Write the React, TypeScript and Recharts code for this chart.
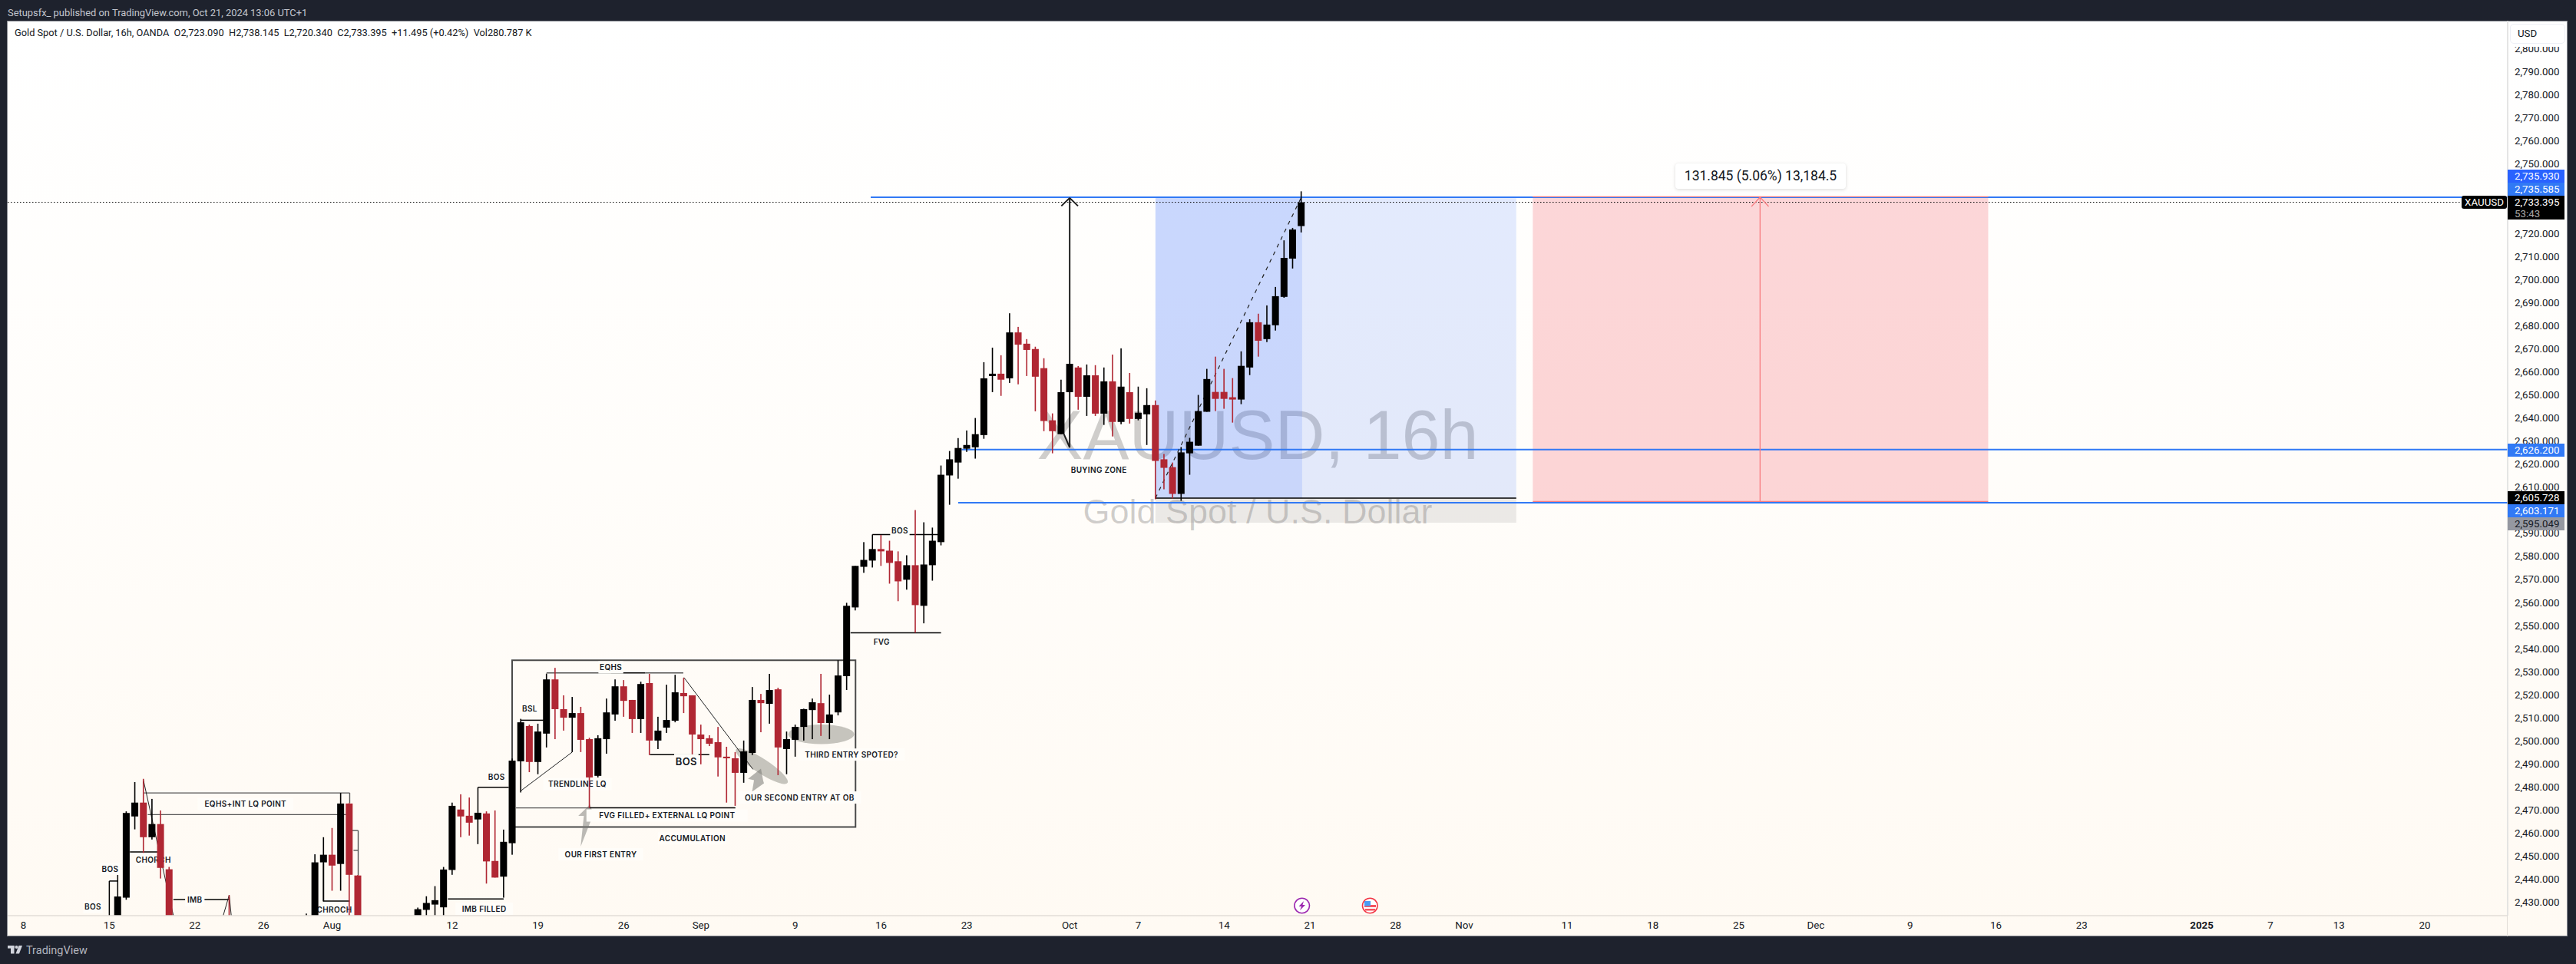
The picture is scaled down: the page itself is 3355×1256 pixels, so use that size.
import React from 'react';
import { ComposedChart, Bar, XAxis, YAxis, ReferenceLine, ReferenceArea, ReferenceDot } from 'recharts';

// candles: bar number on the time scale, then OHLC
const barIndex = [
  0, 1, 2, 3, 4, 5, 6, 13, 22, 23,
  24, 25, 26, 27, 28, 35, 36, 37, 38, 39,
  40, 41, 42, 43, 44, 45, 46, 47, 48, 49,
  50, 51, 52, 53, 54, 55, 56, 57, 58, 59,
  60, 61, 62, 63, 64, 65, 66, 67, 68, 69,
  70, 71, 72, 73, 74, 75, 76, 77, 78, 79,
  80, 81, 82, 83, 84, 85, 86, 87, 88, 89,
  90, 91, 92, 93, 94, 95, 96, 97, 98, 99,
  100, 101, 102, 103, 104, 105, 106, 107, 108, 109,
  110, 111, 112, 113, 114, 115, 116, 117, 118, 119,
  120, 121, 122, 123, 124, 125, 126, 127, 128, 129,
  130, 131, 132, 133, 134, 135, 136, 137, 138,
];
const barOpen = [
  2415, 2432, 2467.2, 2473.2, 2458.2, 2463.9, 2444.3, 2415, 2410, 2415,
  2447.3, 2450.6, 2446.6, 2472.8, 2441.6, 2415, 2426.7, 2429, 2427.8, 2444,
  2470.2, 2467.5, 2465.9, 2468.5, 2447.9, 2441.1, 2455.6, 2491.1, 2506.4, 2490.8,
  2503.1, 2526.6, 2513.7, 2510, 2512, 2500.7, 2484.8, 2500.7, 2511.4, 2523.6,
  2517.7, 2509.4, 2525, 2500.1, 2505.7, 2508.7, 2520.7, 2519.7, 2502.7, 2501.1,
  2499.4, 2493.1, 2492.4, 2486.1, 2494.7, 2517.7, 2516, 2522.3, 2496.4, 2500.4,
  2506, 2513.3, 2516.3, 2507.7, 2512.3, 2528, 2557.8, 2575.4, 2578.1, 2583.1,
  2582.4, 2577.8, 2569.8, 2576.1, 2558.5, 2576.1, 2586.1, 2615, 2620.6, 2626.6,
  2627.2, 2632.5, 2658.1, 2659.1, 2657.1, 2677, 2672.1, 2669.8, 2661.5, 2638.9,
  2632.9, 2651.1, 2661.8, 2649.1, 2658.4, 2641.8, 2655.8, 2638.2, 2651.1, 2639.5,
  2641.5, 2645.5, 2622, 2618.6, 2607, 2624.6, 2627.9, 2642.6, 2651.2, 2651.2,
  2648.9, 2647.9, 2661.8, 2681.4, 2674.1, 2680.1, 2692.4, 2709, 2723.09,
];
const barHigh = [
  2432.5, 2469.4, 2482.1, 2483.5, 2474.8, 2469.8, 2445.3, 2433.1, 2425.1, 2450.8,
  2458.2, 2462.2, 2477.4, 2473, 2441.8, 2427.7, 2432.6, 2437, 2445.3, 2473.2,
  2476.8, 2475.4, 2468.8, 2469.4, 2469.8, 2461.5, 2492.3, 2509.5, 2507, 2507.4,
  2529.1, 2531.6, 2519.7, 2519, 2514.7, 2501.3, 2502.4, 2518.3, 2526.6, 2526.3,
  2517.7, 2525.6, 2529, 2510.4, 2524.3, 2528.6, 2527.3, 2519.7, 2507, 2502.4,
  2506, 2497.4, 2495.1, 2500.1, 2523.3, 2520.3, 2529, 2523, 2504, 2507,
  2513.9, 2518.3, 2529, 2520, 2534.9, 2559.8, 2575.8, 2586.1, 2583.1, 2589.2,
  2586.7, 2582.1, 2580.4, 2600, 2594.7, 2592.4, 2619.3, 2625.6, 2631.2, 2634.5,
  2639.9, 2664.1, 2670.4, 2667.1, 2685.3, 2679.4, 2674.1, 2670.8, 2665.8, 2641.9,
  2656.5, 2663.4, 2662.4, 2663.1, 2662.8, 2661.8, 2667.4, 2670.1, 2659.4, 2653.5,
  2652.8, 2647.5, 2624.3, 2620.6, 2627.3, 2631.3, 2649.9, 2661.2, 2666.5, 2661.2,
  2657.2, 2668.8, 2682.7, 2685.1, 2688.7, 2696.7, 2716.9, 2722.3, 2738.145,
];
const barLow = [
  2410, 2431.1, 2461.6, 2451.4, 2457.2, 2440.3, 2410, 2405, 2405, 2410,
  2430.3, 2435, 2435, 2420, 2410, 2410, 2415, 2418, 2422, 2441.9,
  2458.2, 2458.9, 2455.2, 2438.1, 2440.7, 2432, 2450.6, 2477.6, 2486.4, 2485.5,
  2497.1, 2500.7, 2504.4, 2495.1, 2495.1, 2470.9, 2484.1, 2494.4, 2508.7, 2510.4,
  2503.4, 2503.4, 2493.8, 2496.4, 2503.4, 2508, 2512, 2494.1, 2489.8, 2497.7,
  2484.5, 2473.2, 2471.8, 2481.8, 2493.8, 2503.7, 2507.4, 2485.1, 2485.5, 2493.1,
  2500.1, 2500.7, 2502.1, 2500.7, 2511, 2522, 2556.5, 2572.8, 2575.1, 2575.8,
  2568.1, 2560.5, 2565.5, 2546.8, 2550.9, 2569.4, 2584.7, 2602.3, 2613.6, 2625.2,
  2622.3, 2630.9, 2651.1, 2649.5, 2655.1, 2654.5, 2658.1, 2642.8, 2634.2, 2624.6,
  2632.9, 2651.1, 2643.5, 2640.8, 2640.8, 2636.9, 2631.9, 2637.2, 2637.5, 2638.9,
  2628.2, 2604.7, 2609, 2605, 2604, 2615.3, 2627.9, 2642.6, 2642.9, 2643.9,
  2637.9, 2645.9, 2658.5, 2666.5, 2672.8, 2677.8, 2692, 2704.7, 2720.34,
];
const barClose = [
  2432.5, 2468.7, 2473.2, 2458.2, 2463.9, 2444.9, 2415, 2410, 2415, 2447.3,
  2450.6, 2445.9, 2472.8, 2441.9, 2415, 2427, 2429.7, 2430.9, 2444.2, 2471.8,
  2467.2, 2464.5, 2468.8, 2447.7, 2440.7, 2456.2, 2491.4, 2508, 2490.8, 2504,
  2526.6, 2513.7, 2510, 2512, 2500.4, 2484.1, 2501.1, 2512.3, 2523.6, 2517.3,
  2509.4, 2524.6, 2500.1, 2504.4, 2509, 2521, 2519.3, 2502.7, 2500.7, 2498.7,
  2492.8, 2492.4, 2486.1, 2495.4, 2517.7, 2516.3, 2522, 2497.1, 2500.7, 2506,
  2513.7, 2516.7, 2507.7, 2511.4, 2528.3, 2558.5, 2575.8, 2578.4, 2583.1, 2582.1,
  2577.1, 2569.1, 2576.1, 2558.8, 2576.4, 2586.7, 2615.3, 2622, 2626.9, 2628.2,
  2632.9, 2657.1, 2659.1, 2656.5, 2677, 2671.7, 2669.4, 2657.8, 2638.6, 2634.2,
  2651.1, 2663.4, 2649.1, 2658.4, 2641.8, 2655.8, 2638.2, 2653.5, 2639.5, 2642.2,
  2645.5, 2621.3, 2618.3, 2607, 2625, 2629.6, 2642.9, 2656.8, 2648.2, 2648.2,
  2647.9, 2662.5, 2681.4, 2673.4, 2680.4, 2692.7, 2709.3, 2721.6, 2733.395,
];

const priceTicks = [
  2430, 2440, 2450, 2460, 2470, 2480, 2490, 2500, 2510, 2520, 2530, 2540, 2550, 2560, 2570, 2580, 2590, 2600, 2610,
  2620, 2630, 2640, 2650, 2660, 2670, 2680, 2690, 2700, 2710, 2720, 2730, 2740, 2750, 2760, 2770, 2780, 2790, 2800,
];
const timeTicks = [-11, -1, 9, 17, 25, 39, 49, 59, 68, 79, 89, 99, 111, 119, 129, 139, 149, 157, 169, 179, 189, 198, 209, 219, 229, 243, 251, 259, 269];
const timeLabels = ['8', '15', '22', '26', 'Aug', '12', '19', '26', 'Sep', '9', '16', '23', 'Oct', '7', '14', '21', '28', 'Nov', '11', '18', '25', 'Dec', '9', '16', '23', '2025', '7', '13', '20'];

const chartData = barIndex.map((bar, n) => ({ bar, o: barOpen[n], h: barHigh[n], l: barLow[n], c: barClose[n] }));

const lastPrice = 2733.395;
const xMin = -12.83;
const xMax = 278.67;

// drawings, in [bar, price, bar, price]
const blueLevels = [
  [87.8, 2735.585],
  [98.4, 2626.2],
  [98, 2603.171],
];
const blackLines = [
  [-0.98, 2420, -0.98, 2439.2], [-0.98, 2439.2, 0, 2439.2], [0, 2444.2, 0, 2432.5],
  [1.42, 2451.8, 4.64, 2451.8],
  [6.49, 2431.2, 13, 2431.2],
  [24, 2447, 24, 2430.5], [24, 2430.5, 27.05, 2430.5],
  [38.5, 2431.4, 45, 2431.4],
  [42, 2479.8, 42, 2468.8], [42, 2479.8, 45.6, 2479.8],
  [47, 2508.9, 49.65, 2508.9],
  [57.5, 2529.4, 61.5, 2529.4],
  [62.06, 2494, 68.98, 2494],
  [55, 2470.9, 72.02, 2470.9],
  [85.45, 2546.8, 96, 2546.8],
  [88, 2589.4, 95.7, 2589.4], [88, 2589.4, 88, 2583],
  [121, 2605.2, 163.07, 2605.2],
];
const grayLines = [
  [3.06, 2477.4, 27.05, 2477.4], [3.5, 2468, 27, 2468], [27.05, 2477.4, 27.05, 2473],
  [27.05, 2461.1, 28.04, 2461.1], [27.5, 2452.5, 28.04, 2452.5], [28.04, 2461.1, 28.04, 2441.6],
  [50, 2529.4, 57.5, 2529.4], [61.5, 2529.4, 65.95, 2529.4],
  [46.44, 2470.9, 55, 2470.9],
];
const thinLines = [
  [3, 2482.9, 6.49, 2424.2],
  [12.3, 2424.2, 13, 2433.1], [13, 2433.1, 13.24, 2424.2],
  [47, 2478.3, 53, 2495.1],
  [66.03, 2527.4, 74.08, 2487.6],
];
const heavyLines = [
  [111, 2735.3, 111, 2627.1], [110.03, 2731.8, 111, 2735.3], [111, 2735.3, 111.97, 2731.8], [110.33, 2632.9, 111, 2627.1],
];
const pinkLines = [
  [191.5, 2603.6, 191.5, 2735.6], [190.5, 2731.6, 191.5, 2735.6], [191.5, 2735.6, 192.5, 2731.6],
  [165, 2735.8, 218.1, 2735.8], [165, 2603.7, 218.1, 2603.7],
];
const noteTexts = [
  { text: 'BOS', bar: -0.88, price: 2444.5 },
  { text: 'BOS', bar: -2.9, price: 2427.9 },
  { text: 'CHORCH', bar: 4.16, price: 2448.5 },
  { text: 'EQHS+INT LQ POINT', bar: 14.9, price: 2472.6 },
  { text: 'IMB', bar: 8.99, price: 2430.9 },
  { text: 'CHROCH', bar: 25.27, price: 2426.8 },
  { text: 'IMB FILLED', bar: 42.73, price: 2427.2 },
  { text: 'BOS', bar: 44.17, price: 2484.3 },
  { text: 'BSL', bar: 48.04, price: 2513.8 },
  { text: 'TRENDLINE LQ', bar: 53.6, price: 2481.2 },
  { text: 'EQHS', bar: 57.5, price: 2531.8 },
  { text: 'FVG FILLED+ EXTERNAL LQ POINT', bar: 64.05, price: 2467.6 },
  { text: 'ACCUMULATION', bar: 67, price: 2457.7 },
  { text: 'OUR FIRST ENTRY', bar: 56.33, price: 2450.8 },
  { text: 'OUR SECOND ENTRY AT OB', bar: 79.5, price: 2475.4 },
  { text: 'THIRD ENTRY SPOTED?', bar: 85.56, price: 2494 },
  { text: 'FVG', bar: 89.08, price: 2542.7 },
  { text: 'BOS', bar: 91.2, price: 2591.2 },
  { text: 'BUYING ZONE', bar: 114.4, price: 2617.2 },
];

const fontAxis = 'Roboto, sans-serif';

function CandleShape(props: any) {
  const { x, y, width, height, payload } = props;
  const { o, h, l, c } = payload;
  const toY = (v: number) => y + ((h - v) / (h - l)) * height;
  const color = c >= o ? '#000000' : '#b02733';
  const mid = x + width / 2;
  const top = toY(Math.max(o, c));
  const bottom = toY(Math.min(o, c));
  return (
    <g>
      <rect x={mid - 0.8} y={y} width={1.6} height={height} fill={color} />
      <rect x={mid - 4.5} y={top} width={9} height={Math.max(bottom - top, 2)} fill={color} />
    </g>
  );
}

function NoteShape(props: any) {
  const { cx, cy, text, size } = props;
  const w = text.length * size * 0.71 + 4;
  return (
    <g>
      <rect x={cx - w / 2} y={cy - size * 0.8} width={w} height={size * 1.6} fill="#fffdf9" />
      <text x={cx} y={cy} dy="0.36em" textAnchor="middle" fontFamily="Inter, sans-serif" fontWeight={600} fontSize={size} letterSpacing={0.35} fill="#131722">
        {text}
      </text>
    </g>
  );
}

function DateTick(props: any) {
  const { x, y, payload } = props;
  const label = timeLabels[timeTicks.indexOf(payload.value)];
  return (
    <text x={x} y={y} dy="0.71em" textAnchor="middle" fontFamily={fontAxis} fontSize={13.3} fontWeight={label === '2025' ? 700 : 400} fill="#131722">
      {label}
    </text>
  );
}

function segmentLines(list: number[][], style: any, prefix: string) {
  return list.map((s, n) => (
    <ReferenceLine
      key={`${prefix}-${n}`}
      segment={[{ x: s[0], y: s[1] }, { x: s[2], y: s[3] }]}
      ifOverflow="hidden"
      zIndex={200}
      {...style}
    />
  ));
}

// small tag on the price scale
function PriceTag({ top, height, bg, color, text, sub }: any) {
  return (
    <div style={{ position: 'absolute', left: 3266, top, width: 74, height, background: bg, color, fontFamily: fontAxis, fontSize: 13.3, lineHeight: '17px', paddingLeft: 9, boxSizing: 'border-box' }}>
      {text}
      {sub && <div style={{ color: '#a8a8a8', lineHeight: '13px' }}>{sub}</div>}
    </div>
  );
}

export default function App() {
  return (
    <div style={{ position: 'absolute', left: 0, top: 0, width: 3355, height: 1256, background: '#1e222d', overflow: 'hidden' }}>
      <div style={{ position: 'absolute', left: 10, top: 9, color: '#c3c6ce', fontFamily: 'Roboto, sans-serif', fontSize: 12.9, lineHeight: '15px', whiteSpace: 'nowrap' }}>
        Setupsfx_ published on TradingView.com, Oct 21, 2024 13:06 UTC+1
      </div>

      {/* chart frame and background */}
      <div style={{ position: 'absolute', left: 9, top: 27, width: 3335, height: 1193, boxSizing: 'border-box', border: '1px solid #8b8e95', background: 'linear-gradient(to bottom, #ffffff 0%, #fffdfa 50%, #fffaf3 100%)' }} />

      {/* watermark */}
      <div style={{ position: 'absolute', left: 10, width: 3256, top: 515, textAlign: 'center', fontFamily: '"Liberation Sans", sans-serif', fontSize: 90, lineHeight: '104px', color: 'rgba(0,0,0,0.19)' }}>
        XAUUSD, 16h
      </div>
      <div style={{ position: 'absolute', left: 10, width: 3256, top: 640, textAlign: 'center', fontFamily: '"Liberation Sans", sans-serif', fontSize: 45, lineHeight: '54px', color: 'rgba(0,0,0,0.19)' }}>
        Gold Spot / U.S. Dollar
      </div>

      <div style={{ position: 'absolute', left: 0, top: 0 }}>
        <ComposedChart width={3355} height={1256} data={chartData} margin={{ top: 27, right: 11, bottom: 36, left: 10 }} barCategoryGap={0}>
          <XAxis
            dataKey="bar"
            type="number"
            domain={[xMin, xMax]}
            allowDataOverflow
            ticks={timeTicks}
            interval={0}
            height={27}
            tickSize={0}
            tickMargin={8}
            tick={DateTick}
            axisLine={{ stroke: '#e2ddd7', strokeWidth: 1.5 }}
            tickLine={false}
          />
          <YAxis
            orientation="right"
            domain={[2424.2, 2812.1]}
            allowDataOverflow
            ticks={priceTicks}
            interval={0}
            width={78}
            tickSize={0}
            tickMargin={9}
            tickFormatter={(v: number) => v.toLocaleString('en-US', { minimumFractionDigits: 3 })}
            tick={{ fontFamily: fontAxis, fontSize: 13.3, fill: '#131722', textAnchor: 'start' }}
            axisLine={{ stroke: '#dcdcdc', strokeWidth: 1.5 }}
            tickLine={false}
          />

          {/* position tool */}
          <ReferenceArea x1={121} x2={138.1} y1={2605.2} y2={2735.6} fill="#2962ff" fillOpacity={0.25} stroke="none" ifOverflow="visible" zIndex={100} />
          <ReferenceArea x1={138.1} x2={163.07} y1={2605.2} y2={2735.6} fill="#2962ff" fillOpacity={0.13} stroke="none" ifOverflow="visible" zIndex={100} />
          <ReferenceArea x1={121} x2={163.07} y1={2594.5} y2={2605.2} fill="#787878" fillOpacity={0.15} stroke="none" ifOverflow="visible" zIndex={100} />
          <ReferenceArea x1={165} x2={218.1} y1={2603.7} y2={2735.8} fill="#f23645" fillOpacity={0.2} stroke="none" ifOverflow="visible" zIndex={100} />

          <ReferenceLine
            segment={[{ x: xMin, y: lastPrice }, { x: xMax, y: lastPrice }]}
            ifOverflow="hidden"
            stroke="#000000"
            strokeWidth={1}
            strokeDasharray="1.5 2.5"
            zIndex={110}
          />

          <ReferenceArea x1={45.99} x2={86.03} y1={2462.6} y2={2534.9} fill="none" stroke="#4a4a4a" strokeWidth={2} ifOverflow="visible" zIndex={120} />

          {/* grey marker shapes */}
          <ReferenceDot
            x={82.03}
            y={2502.8}
            ifOverflow="visible"
            zIndex={130}
            shape={(p: any) => <ellipse cx={p.cx} cy={p.cy} rx={43} ry={12.7} fill="rgba(120,120,110,0.42)" />}
          />
          <ReferenceDot
            x={75.1}
            y={2489}
            ifOverflow="visible"
            zIndex={130}
            shape={(p: any) => <ellipse cx={p.cx} cy={p.cy} rx={40} ry={9.5} transform={`rotate(33 ${p.cx} ${p.cy})`} fill="rgba(120,120,110,0.42)" />}
          />
          <ReferenceDot
            x={55.07}
            y={2472.4}
            ifOverflow="visible"
            zIndex={130}
            shape={(p: any) => (
              <polygon
                transform={`translate(${p.cx} ${p.cy})`}
                points="0,0 -15.3,15 -8,15 -12.2,55 2,19 6.9,21"
                fill="rgba(120,120,115,0.5)"
              />
            )}
          />
          <ReferenceDot
            x={75}
            y={2487.9}
            ifOverflow="visible"
            zIndex={130}
            shape={(p: any) => (
              <polygon
                transform={`translate(${p.cx} ${p.cy})`}
                points="0,0 -16.8,13.3 -9,15 -11.5,30 4,19 3,16"
                fill="rgba(120,120,115,0.55)"
              />
            )}
          />

          {blueLevels.map((l, n) => (
            <ReferenceLine
              key={`blue-${n}`}
              segment={[{ x: l[0], y: l[1] }, { x: xMax, y: l[1] }]}
              ifOverflow="hidden"
              stroke="#3179f5"
              strokeWidth={2}
              zIndex={140}
            />
          ))}

          {segmentLines(pinkLines, { stroke: '#f77c80', strokeWidth: 1.3 }, 'pink')}
          {segmentLines(grayLines, { stroke: '#555555', strokeWidth: 1.4 }, 'gray')}
          {segmentLines(blackLines, { stroke: '#000000', strokeWidth: 1.5 }, 'black')}
          {segmentLines(thinLines, { stroke: '#222222', strokeWidth: 1 }, 'thin')}
          {segmentLines(heavyLines, { stroke: '#1c1c1c', strokeWidth: 2 }, 'heavy')}
          <ReferenceLine
            segment={[{ x: 121, y: 2605.2 }, { x: 138, y: 2735.5 }]}
            ifOverflow="hidden"
            stroke="#222222"
            strokeWidth={1.2}
            strokeDasharray="5 6"
            zIndex={200}
          />

          {noteTexts.map((t, n) => (
            <ReferenceDot
              key={`note-${n}`}
              x={t.bar}
              y={t.price}
              ifOverflow="visible"
              zIndex={210}
              shape={(p: any) => <NoteShape cx={p.cx} cy={p.cy} text={t.text} size={10} />}
            />
          ))}
          <ReferenceDot
            x={66.3}
            y={2490.9}
            ifOverflow="visible"
            zIndex={210}
            shape={(p: any) => <NoteShape cx={p.cx} cy={p.cy} text="BOS" size={13} />}
          />

          <Bar dataKey={(d: any) => [d.l, d.h]} barSize={9} shape={CandleShape} isAnimationActive={false} zIndex={300} />
        </ComposedChart>
      </div>

      {/* legend line */}
      <div style={{ position: 'absolute', left: 19, top: 35, color: '#131722', fontFamily: 'Roboto, sans-serif', fontSize: 12.8, lineHeight: '15px', whiteSpace: 'pre' }}>
        {'Gold Spot / U.S. Dollar, 16h, OANDA  O2,723.090  H2,738.145  L2,720.340  C2,733.395  +11.495 (+0.42%)  Vol280.787 K'}
      </div>

      {/* measure box */}
      <div style={{ position: 'absolute', left: 2182, top: 213, width: 222, height: 33, background: '#ffffff', borderRadius: 4, boxShadow: '0 1px 4px rgba(0,0,0,0.15)', textAlign: 'center', fontFamily: 'Roboto, sans-serif', fontSize: 17.5, lineHeight: '33px', color: '#131722', whiteSpace: 'nowrap' }}>
        131.845 (5.06%) 13,184.5
      </div>

      {/* price scale: unit button and tags */}
      <div style={{ position: 'absolute', left: 3267, top: 28, width: 76, height: 33, background: '#ffffff' }} />
      <div style={{ position: 'absolute', left: 3269, top: 31, width: 72, height: 26, boxSizing: 'border-box', border: '1px solid #eef0f6', borderRadius: 5, fontFamily: fontAxis, fontSize: 13.3, lineHeight: '24px', paddingLeft: 9, color: '#131722', background: '#ffffff' }}>
        USD
      </div>
      <div style={{ position: 'absolute', left: 3206, top: 255, width: 59, height: 17, background: '#000000', borderRadius: 3, color: '#ffffff', fontFamily: fontAxis, fontSize: 13.3, lineHeight: '17px', textAlign: 'center' }}>
        XAUUSD
      </div>
      <PriceTag top={221} height={17} bg="#2962ff" color="#ffffff" text="2,735.930" />
      <PriceTag top={238} height={17} bg="#3179f5" color="#ffffff" text="2,735.585" />
      <PriceTag top={255} height={31} bg="#000000" color="#ffffff" text="2,733.395" sub="53:43" />
      <PriceTag top={578} height={17} bg="#3179f5" color="#ffffff" text="2,626.200" />
      <PriceTag top={640} height={17} bg="#000000" color="#ffffff" text="2,605.728" />
      <PriceTag top={657} height={17} bg="#3179f5" color="#ffffff" text="2,603.171" />
      <PriceTag top={674} height={17} bg="#9598a1" color="#131722" text="2,595.049" />

      <div style={{ position: 'absolute', left: 3265, top: 1193, width: 1, height: 27, background: '#e2ddd7' }} />

      {/* event icons on the time scale */}
      <svg style={{ position: 'absolute', left: 1680, top: 1165 }} width={120} height={30}>
        <circle cx={15.7} cy={15} r={9.8} fill="#ffffff" stroke="#9c27b0" strokeWidth={1.6} />
        <polygon points="18,9 11.5,16 15,16 13,21 20,14 16.5,14" fill="#9c27b0" />
        <circle cx={104.3} cy={15} r={9.8} fill="#ffffff" stroke="#f23645" strokeWidth={1.6} />
        <rect x={97} y={14} width={15} height={3} fill="#f7525f" />
        <rect x={98} y={19} width={13} height={2.5} fill="#f7525f" />
        <rect x={97} y={9} width={8} height={6.5} fill="#4a9cf5" />
      </svg>

      {/* footer */}
      <svg style={{ position: 'absolute', left: 10, top: 1232 }} width={20} height={12}>
        <rect x={0} y={0} width={8.5} height={3.6} fill="#d1d4dc" />
        <rect x={4} y={0} width={4.5} height={10.5} fill="#d1d4dc" />
        <circle cx={11.5} cy={2} r={2} fill="#d1d4dc" />
        <polygon points="14.5,0 19,0 15,10.5 10.5,10.5" fill="#d1d4dc" />
      </svg>
      <div style={{ position: 'absolute', left: 34, top: 1230, color: '#b2b5be', fontFamily: 'Roboto, sans-serif', fontSize: 14.5, lineHeight: '18px' }}>
        TradingView
      </div>
    </div>
  );
}
